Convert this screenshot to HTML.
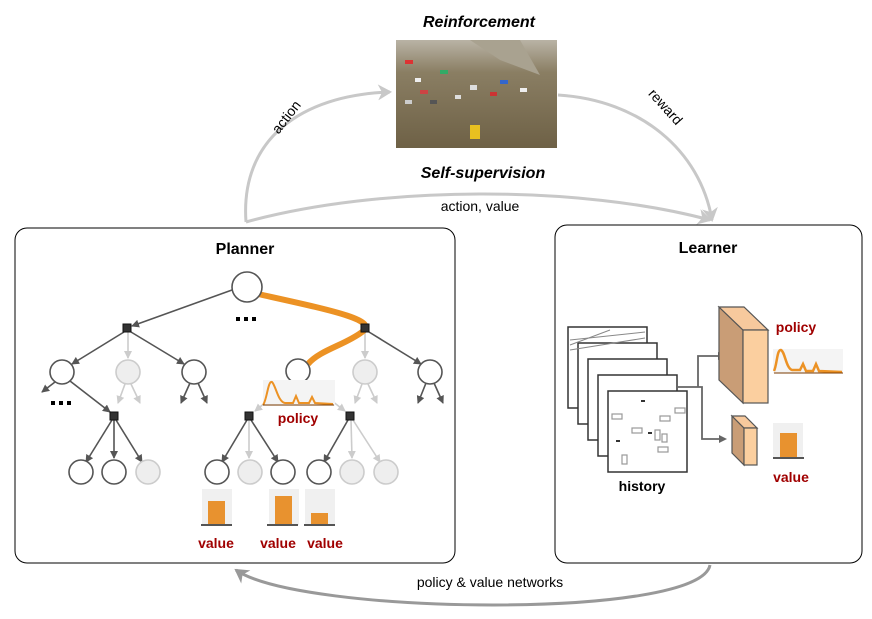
<!DOCTYPE html>
<html><head><style>body{margin:0;background:#fff}svg{display:block;font-family:"Liberation Sans",sans-serif}</style></head><body>
<svg width="872" height="619" viewBox="0 0 872 619">
<defs>
<marker id="a" markerWidth="8" markerHeight="8" refX="7" refY="4" orient="auto" markerUnits="userSpaceOnUse"><path d="M0,0 L8,4 L0,8 Z" fill="#555"/></marker>
<marker id="al" markerWidth="8" markerHeight="8" refX="7" refY="4" orient="auto" markerUnits="userSpaceOnUse"><path d="M0,0 L8,4 L0,8 Z" fill="#ccc"/></marker>
<marker id="ab" markerWidth="16" markerHeight="16" refX="12" refY="8" orient="auto" markerUnits="userSpaceOnUse"><path d="M0,0 L14,8 L0,16 L4,8 Z" fill="#c8c8c8"/></marker>
<marker id="ag" markerWidth="16" markerHeight="16" refX="12" refY="8" orient="auto" markerUnits="userSpaceOnUse"><path d="M0,0 L14,8 L0,16 L4,8 Z" fill="#999"/></marker>
<linearGradient id="ph" x1="0" y1="0" x2="0" y2="1"><stop offset="0" stop-color="#b9b3a5"/><stop offset="0.3" stop-color="#8a7e63"/><stop offset="1" stop-color="#6e6146"/></linearGradient>
</defs>
<text x="479" y="27" font-size="16" font-weight="bold" font-style="italic" text-anchor="middle">Reinforcement</text>
<rect x="396" y="40" width="161" height="108" fill="url(#ph)"/>
<path d="M470,40 L520,40 L540,75 L500,60 Z" fill="#a9a290"/>
<g><rect x="405" y="60" width="8" height="4" fill="#d33"/><rect x="440" y="70" width="8" height="4" fill="#3a6"/><rect x="470" y="85" width="7" height="5" fill="#ddd"/><rect x="420" y="90" width="8" height="4" fill="#c44"/><rect x="500" y="80" width="8" height="4" fill="#36c"/><rect x="470" y="125" width="10" height="14" fill="#e8c020"/><rect x="415" y="78" width="6" height="4" fill="#eee"/><rect x="430" y="100" width="7" height="4" fill="#555"/><rect x="455" y="95" width="6" height="4" fill="#ddd"/><rect x="490" y="92" width="7" height="4" fill="#c33"/><rect x="520" y="88" width="7" height="4" fill="#eee"/><rect x="405" y="100" width="7" height="4" fill="#ccc"/></g>
<text x="483" y="178" font-size="16" font-weight="bold" font-style="italic" text-anchor="middle">Self-supervision</text>
<text x="480" y="211" font-size="14" text-anchor="middle">action, value</text>
<g fill="none" stroke="#c8c8c8" stroke-width="3">
<path d="M246,222 C240,140 300,95 390,92" marker-end="url(#ab)"/>
<path d="M558,95 C640,100 700,150 712,220" marker-end="url(#ab)"/>
<path d="M246,222 C380,185 580,185 710,220" marker-end="url(#ab)"/>
</g>
<text transform="translate(290,120) rotate(-52)" font-size="14" text-anchor="middle">action</text>
<text transform="translate(662,110) rotate(48)" font-size="14" text-anchor="middle">reward</text>
<path d="M710,565 C700,620 300,615 236,570" fill="none" stroke="#999" stroke-width="3" marker-end="url(#ag)"/>
<text x="490" y="587" font-size="14" text-anchor="middle">policy &amp; value networks</text>

<rect x="15" y="228" width="440" height="335" rx="12" fill="none" stroke="#000"/>
<rect x="555" y="225" width="307" height="338" rx="12" fill="none" stroke="#000"/>
<text x="245" y="254" font-size="16" font-weight="bold" text-anchor="middle">Planner</text>
<text x="708" y="253" font-size="16" font-weight="bold" text-anchor="middle">Learner</text>

<g stroke="#555" stroke-width="1.6" fill="none" marker-end="url(#a)">
<line x1="232" y1="290" x2="132" y2="326"/>
<line x1="124" y1="332" x2="72" y2="364"/>
<line x1="131" y1="332" x2="184" y2="364"/>
<line x1="369" y1="332" x2="421" y2="364"/>
<line x1="70" y1="381" x2="110" y2="412"/>
<line x1="55" y1="382" x2="42" y2="392"/>
<line x1="190" y1="383" x2="181" y2="403"/><line x1="198" y1="383" x2="207" y2="403"/>
<line x1="426" y1="383" x2="418" y2="403"/><line x1="434" y1="383" x2="443" y2="403"/>
<line x1="112" y1="420" x2="86" y2="462"/><line x1="114" y1="420" x2="114" y2="458"/><line x1="116" y1="420" x2="142" y2="462"/>
<line x1="247" y1="420" x2="222" y2="462"/><line x1="251" y1="420" x2="278" y2="462"/>
<line x1="348" y1="420" x2="324" y2="462"/>
</g>
<g stroke="#ccc" stroke-width="1.6" fill="none" marker-end="url(#al)">
<line x1="128" y1="332" x2="128" y2="358"/><line x1="365" y1="332" x2="365" y2="358"/>
<line x1="125" y1="384" x2="118" y2="403"/><line x1="131" y1="384" x2="140" y2="403"/>
<line x1="362" y1="384" x2="355" y2="403"/><line x1="368" y1="384" x2="377" y2="403"/>
<line x1="292" y1="381" x2="255" y2="411"/><line x1="306" y1="381" x2="345" y2="411"/>
<line x1="249" y1="420" x2="249" y2="458"/>
<line x1="351" y1="420" x2="352" y2="458"/><line x1="353" y1="420" x2="380" y2="462"/>
</g>
<path d="M258,294 C330,310 380,320 362,332 C345,345 320,350 308,364" fill="none" stroke="#ec9224" stroke-width="6"/>
<g stroke="#555" stroke-width="1.6">
<circle cx="247" cy="287" r="15" fill="#fff"/>
<g fill="#fff"><circle cx="62" cy="372" r="12"/><circle cx="194" cy="372" r="12"/><circle cx="298" cy="371" r="12"/><circle cx="430" cy="372" r="12"/>
<circle cx="81" cy="472" r="12"/><circle cx="114" cy="472" r="12"/><circle cx="217" cy="472" r="12"/><circle cx="283" cy="472" r="12"/><circle cx="319" cy="472" r="12"/></g>
<g fill="#333" stroke="#111" stroke-width="1"><rect x="123" y="324" width="8" height="8"/><rect x="361" y="324" width="8" height="8"/><rect x="110" y="412" width="8" height="8"/><rect x="245" y="412" width="8" height="8"/><rect x="346" y="412" width="8" height="8"/></g>
</g>
<g stroke="#ccc" stroke-width="1.6" fill="#eee"><circle cx="128" cy="372" r="12"/><circle cx="365" cy="372" r="12"/><circle cx="148" cy="472" r="12"/><circle cx="250" cy="472" r="12"/><circle cx="352" cy="472" r="12"/><circle cx="386" cy="472" r="12"/></g>
<g fill="#000"><rect x="236" y="317" width="4" height="4"/><rect x="244" y="317" width="4" height="4"/><rect x="252" y="317" width="4" height="4"/>
<rect x="51" y="401" width="4" height="4"/><rect x="59" y="401" width="4" height="4"/><rect x="67" y="401" width="4" height="4"/></g>
<rect x="263" y="380" width="72" height="26" fill="#f4f4f4"/>
<path d="M263,405 C267,400 268,380 272,382 C276,386 278,402 285,403 L293,403 L296,396 L299,403 L309,403 L312,397 L315,403 L333,404" fill="none" stroke="#ec9224" stroke-width="2"/>
<line x1="263" y1="405" x2="334" y2="405" stroke="#7a3a00"/>
<text x="298" y="423" font-size="14" font-weight="bold" fill="#a00000" text-anchor="middle">policy</text>
<g><rect x="202" y="489" width="30" height="36" fill="#f0f0f0"/><rect x="208" y="501" width="17" height="24" fill="#e8922f"/>
<rect x="269" y="489" width="30" height="36" fill="#f0f0f0"/><rect x="275" y="496" width="17" height="29" fill="#e8922f"/>
<rect x="305" y="489" width="30" height="36" fill="#f0f0f0"/><rect x="311" y="513" width="17" height="12" fill="#e8922f"/>
<g stroke="#555" stroke-width="2"><line x1="201" y1="525" x2="232" y2="525"/><line x1="267" y1="525" x2="298" y2="525"/><line x1="304" y1="525" x2="335" y2="525"/></g></g>
<g font-size="14" font-weight="bold" fill="#a00000" text-anchor="middle"><text x="216" y="548">value</text><text x="278" y="548">value</text><text x="325" y="548">value</text></g>

<g stroke="#333" stroke-width="1.5" fill="#fff">
<rect x="568" y="327" width="79" height="81"/><rect x="578" y="343" width="79" height="81"/><rect x="588" y="359" width="79" height="81"/><rect x="598" y="375" width="79" height="81"/><rect x="608" y="391" width="79" height="81"/>
</g>
<g stroke="#888" fill="none"><line x1="570" y1="340" x2="645" y2="332"/><line x1="570" y1="350" x2="645" y2="338"/><line x1="570" y1="345" x2="610" y2="330"/></g>
<g fill="none" stroke="#999" stroke-width="1.2"><rect x="612" y="414" width="10" height="5"/><rect x="660" y="416" width="10" height="5"/><rect x="675" y="408" width="10" height="5"/><rect x="632" y="428" width="10" height="5"/><rect x="655" y="430" width="5" height="10"/><rect x="662" y="434" width="5" height="8"/><rect x="658" y="447" width="10" height="5"/><rect x="622" y="455" width="5" height="9"/></g>
<g fill="#333"><rect x="641" y="400" width="4" height="2"/><rect x="616" y="440" width="4" height="2"/><rect x="648" y="432" width="4" height="2"/></g>
<text x="642" y="491" font-size="14" font-weight="bold" text-anchor="middle">history</text>
<path d="M677,387 L698,387 L698,356 L724,356 M698,387 L702,387 L702,439 L725,439" fill="none" stroke="#666" stroke-width="1.8"/>
<path d="M726,356 l-8,-4 l0,8z M727,439 l-8,-4 l0,8z" fill="#666"/>
<g stroke="#555" stroke-width="1.2">
<path d="M719,307 L743,330 L743,403 L719,380 Z" fill="#c99d76"/>
<path d="M719,307 L744,307 L768,330 L743,330 Z" fill="#f7c99d"/>
<rect x="743" y="330" width="25" height="73" fill="#fbcf9f"/>
<path d="M732,416 L744,428 L744,465 L732,453 Z" fill="#c99d76"/>
<path d="M732,416 L745,416 L757,428 L744,428 Z" fill="#f7c99d"/>
<rect x="744" y="428" width="13" height="37" fill="#fbcf9f"/>
</g>
<text x="796" y="332" font-size="14" font-weight="bold" fill="#a00000" text-anchor="middle">policy</text>
<rect x="773" y="349" width="70" height="24" fill="#f4f4f4"/>
<path d="M774,371 C777,365 777,349 781,350 C785,352 786,368 792,370 L800,370 L803,364 L806,371 L813,371 L816,364 L819,371 L842,372" fill="none" stroke="#ec9224" stroke-width="2.5"/>
<line x1="774" y1="373" x2="843" y2="373" stroke="#7a3a00"/>
<rect x="773" y="423" width="30" height="36" fill="#f0f0f0"/><rect x="780" y="433" width="17" height="25" fill="#e8922f"/>
<line x1="773" y1="458" x2="804" y2="458" stroke="#555" stroke-width="2"/>
<text x="791" y="482" font-size="14" font-weight="bold" fill="#a00000" text-anchor="middle">value</text>
</svg>
</body></html>
